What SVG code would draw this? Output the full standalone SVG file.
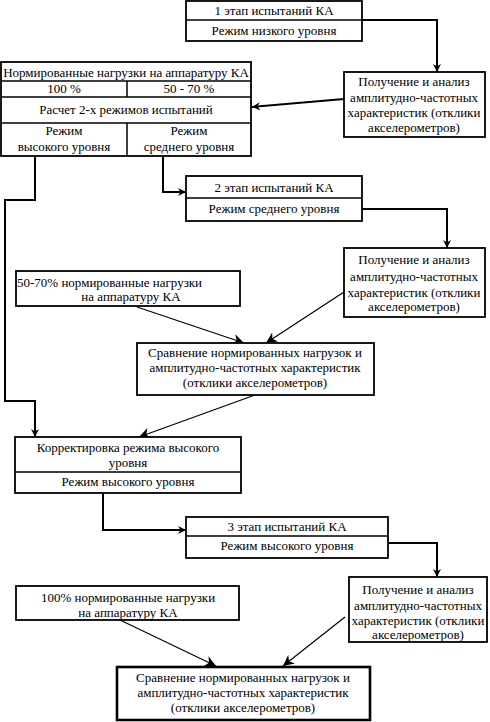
<svg xmlns="http://www.w3.org/2000/svg" width="490" height="722" viewBox="0 0 490 722">
<style>
.b{fill:#fff;stroke:#000;stroke-width:1.8}
.d{stroke:#000;stroke-width:1.5;fill:none}
.c{stroke:#000;stroke-width:2;fill:none}
.s{stroke:#000;stroke-width:1.2;fill:none}
text{font-family:'Liberation Serif','Times New Roman',Tinos,'DejaVu Serif',serif;font-size:13px;fill:#000;text-anchor:middle}
</style>
<defs>
<marker id="a" viewBox="0 0 10 10" refX="10" refY="5" markerWidth="8" markerHeight="8" markerUnits="userSpaceOnUse" orient="auto">
<path d="M0,0 L10,5 L0,10 L3,5 Z" fill="#000"/>
</marker>
<marker id="a2" viewBox="0 0 10 10" refX="10" refY="5" markerWidth="11" markerHeight="11" markerUnits="userSpaceOnUse" orient="auto">
<path d="M0,0 L10,5 L0,10 L3,5 Z" fill="#000"/>
</marker>
</defs>
<g id="connectors">
<path class="c" d="M362,20 H437 V72" marker-end="url(#a)"/>
<path class="c" d="M344,99 L252,107" marker-end="url(#a)"/>
<path class="c" d="M35,156 V200 H5 V401 H35 V437" marker-end="url(#a)"/>
<path class="c" d="M163,156 V192 H186" marker-end="url(#a)"/>
<path class="c" d="M362,209 H447 V248" marker-end="url(#a)"/>
<path class="s" d="M137,307 L244,343" marker-end="url(#a2)"/>
<path class="s" d="M344,292 L266,343" marker-end="url(#a2)"/>
<path class="s" d="M255,395 L139,437" marker-end="url(#a2)"/>
<path class="c" d="M103,493 V530 H186" marker-end="url(#a)"/>
<path class="c" d="M388,543 H437 V577" marker-end="url(#a)"/>
<path class="s" d="M120,620 L216,666" marker-end="url(#a2)"/>
<path class="s" d="M345,617 L283,666" marker-end="url(#a2)"/>
</g>
<g id="stage1">
<rect class="b" x="186" y="1" width="176" height="40"/>
<line class="d" x1="186" y1="20" x2="362" y2="20"/>
<text x="274" y="15">1 этап испытаний КА</text>
<text x="274" y="35">Режим низкого уровня</text>
</g>
<g id="loads">
<rect class="b" x="1" y="62" width="250" height="94"/>
<line class="d" x1="1" y1="81" x2="251" y2="81"/>
<line class="d" x1="1" y1="97" x2="251" y2="97"/>
<line class="d" x1="1" y1="123" x2="251" y2="123"/>
<line class="d" x1="127" y1="81" x2="127" y2="97"/>
<line class="d" x1="127" y1="123" x2="127" y2="156"/>
<text x="126" y="77">Нормированные нагрузки на аппаратуру КА</text>
<text x="64" y="93">100 %</text>
<text x="189" y="93">50 - 70 %</text>
<text x="126" y="114">Расчет 2-х режимов испытаний</text>
<text x="64" y="135">Режим</text>
<text x="64" y="151">высокого уровня</text>
<text x="189" y="135">Режим</text>
<text x="189" y="151">среднего уровня</text>
</g>
<g id="afc1">
<rect class="b" x="344" y="72" width="141" height="65"/>
<text x="414" y="86">Получение и анализ</text>
<text x="414" y="102">амплитудно-частотных</text>
<text x="414" y="117">характеристик (отклики</text>
<text x="414" y="132">акселерометров)</text>
</g>
<g id="stage2">
<rect class="b" x="186" y="176" width="176" height="45"/>
<line class="d" x1="186" y1="198" x2="362" y2="198"/>
<text x="274" y="192">2 этап испытаний КА</text>
<text x="274" y="213">Режим среднего уровня</text>
</g>
<g id="afc2">
<rect class="b" x="344" y="248" width="141" height="69"/>
<text x="414" y="264">Получение и анализ</text>
<text x="414" y="281">амплитудно-частотных</text>
<text x="414" y="297">характеристик (отклики</text>
<text x="414" y="311">акселерометров)</text>
</g>
<g id="norm5070">
<rect class="b" x="16" y="271" width="224" height="35"/>
<text x="17" y="287" style="text-anchor:start">50-70% нормированные нагрузки</text>
<text x="131" y="301">на аппаратуру КА</text>
</g>
<g id="compare1">
<rect class="b" x="137" y="343" width="237" height="52"/>
<text x="255" y="357">Сравнение нормированных нагрузок и</text>
<text x="255" y="372">амплитудно-частотных характеристик</text>
<text x="255" y="387">(отклики акселерометров)</text>
</g>
<g id="correct">
<rect class="b" x="15" y="437" width="226" height="56"/>
<line class="d" x1="15" y1="472" x2="241" y2="472"/>
<text x="128" y="452">Корректировка режима высокого</text>
<text x="128" y="467">уровня</text>
<text x="128" y="486">Режим высокого уровня</text>
</g>
<g id="stage3">
<rect class="b" x="186" y="517" width="202" height="41"/>
<line class="d" x1="186" y1="536" x2="388" y2="536"/>
<text x="287" y="531">3 этап испытаний КА</text>
<text x="287" y="550">Режим высокого уровня</text>
</g>
<g id="afc3">
<rect class="b" x="349" y="577" width="138" height="65"/>
<text x="418" y="594">Получение и анализ</text>
<text x="418" y="610">амплитудно-частотных</text>
<text x="418" y="625">характеристик (отклики</text>
<text x="418" y="639">акселерометров)</text>
</g>
<g id="norm100">
<rect class="b" x="16" y="586" width="223" height="34"/>
<text x="128" y="602">100% нормированные нагрузки</text>
<text x="128" y="617">на аппаратуру КА</text>
</g>
<g id="compare2">
<rect class="b" x="117" y="667" width="253" height="53" style="stroke-width:2.6"/>
<text x="243" y="682">Сравнение нормированных нагрузок и</text>
<text x="243" y="697">амплитудно-частотных характеристик</text>
<text x="243" y="712">(отклики акселерометров)</text>
</g>
</svg>
